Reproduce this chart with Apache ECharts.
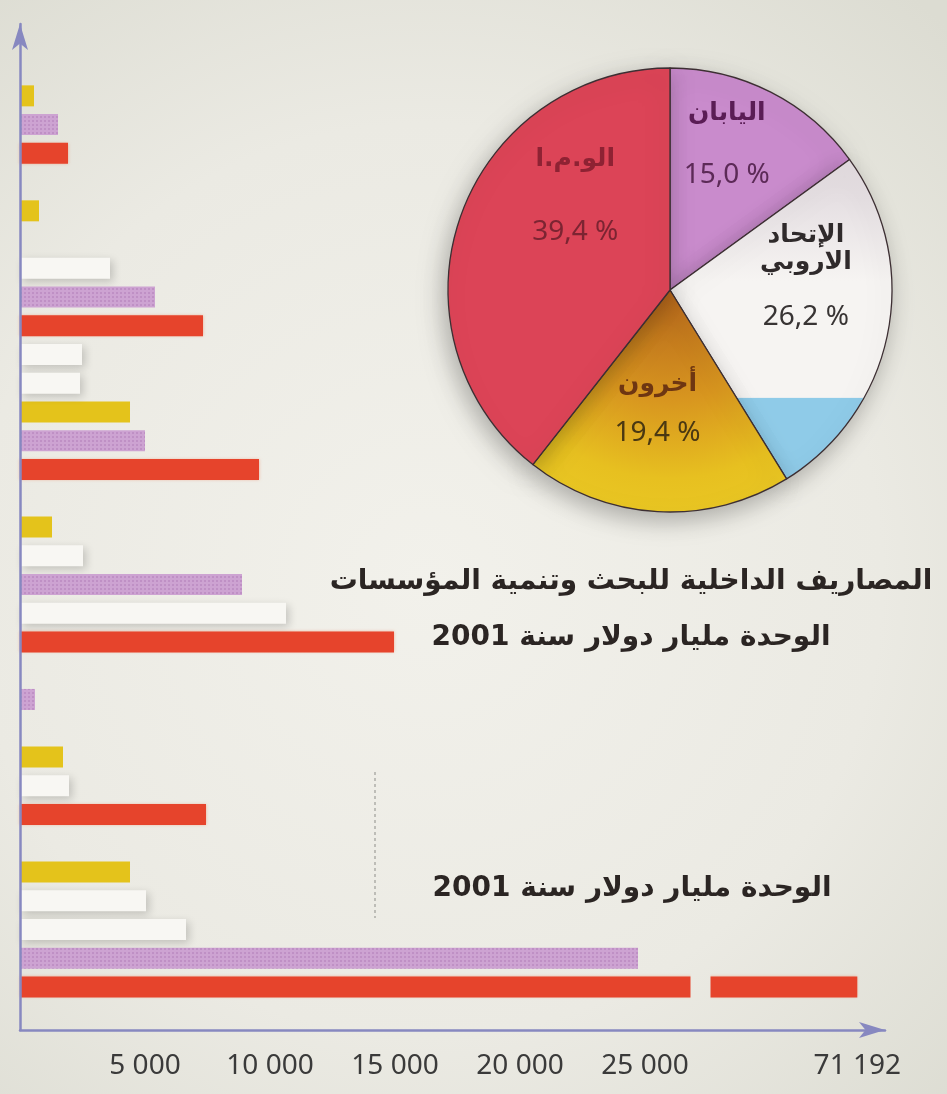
<!DOCTYPE html>
<html lang="ar">
<head>
<meta charset="utf-8">
<title>المصاريف الداخلية للبحث وتنمية المؤسسات</title>
<script src="https://cdn.jsdelivr.net/npm/echarts@6.0.0/dist/echarts.min.js"></script>
<style>
  html, body { margin: 0; padding: 0; background: #e9e8e1; }
  #chart { width: 947px; height: 1094px; }
</style>
</head>
<body>
<div id="chart"></div>
<script>
// bar rows from top to bottom, one bar per row (empty rows keep the gaps)
const rowNames = Array.from({ length: 35 }, (_, i) => 'row' + (i + 1))

const yellowBars = [
  null, null, 560, null, null,
  null, 760, null, null, null,
  null, null, null, 4400, null,
  null, null, 1280, null, null,
  null, null, null, null, null,
  1720, null, null, null, 4400,
  null, null, null, null, null
]
const whiteBars = [
  null, null, null, null, null,
  null, null, null, 3600, null,
  null, 2480, 2400, null, null,
  null, null, null, 2520, null,
  10640, null, null, null, null,
  null, 1960, null, null, null,
  5040, 6640, null, null, null
]
const lavenderBars = [
  null, null, null, 1520, null,
  null, null, null, null, 5400,
  null, null, null, null, 5000,
  null, null, null, null, 8880,
  null, null, null, 600, null,
  null, null, null, null, null,
  null, null, 24720, null, null
]
const redBars = [
  null, null, null, null, 1920,
  null, null, null, null, null,
  7320, null, null, null, null,
  9560, null, null, null, null,
  null, 14960, null, null, null,
  null, null, 7440, null, null,
  null, null, null, 71192, null
]

// x axis tick labels (the last one sits after the axis break)
const xTickValues = [5000, 10000, 15000, 20000, 25000, 71192]

// pie: share of spending, clockwise from 12 o'clock
const pieNames = ['اليابان', 'الإتحاد\nالاروبي', 'أخرون', 'الو.م.ا']
const pieShares = [15.0, 26.2, 19.4, 39.4]

const titleLines = ['المصاريف الداخلية للبحث وتنمية المؤسسات', 'الوحدة مليار دولار سنة 2001']
const unitNote = 'الوحدة مليار دولار سنة 2001'

const chart = echarts.init(document.getElementById('chart'))

const fmtThousands = v => String(v).replace(/\B(?=(\d{3})+(?!\d))/g, ' ')
const fmtShare = v => v.toFixed(1).replace('.', ',') + ' %'

// paper-like background, reused to hide the bar inside the axis break
const paper = () => new echarts.graphic.RadialGradient(426, 580, 760, [
  { offset: 0, color: '#f2f1eb' },
  { offset: 0.6, color: '#ebeae3' },
  { offset: 1, color: '#dcdcd2' }
], true)

const pieCenter = [670, 290]
const pieRadius = 222

const pieColors = [
  '#c98bcc',
  new echarts.graphic.LinearGradient(0, 68, 0, 512, [
    { offset: 0, color: '#d9cfd4' },
    { offset: 0.3, color: '#e6e0e3' },
    { offset: 0.48, color: '#f6f4f2' },
    { offset: 0.742, color: '#f6f4f2' },
    { offset: 0.743, color: '#8fcbe8' },
    { offset: 1, color: '#8fcbe8' }
  ], true),
  new echarts.graphic.RadialGradient(670, 290, 222, [
    { offset: 0, color: '#b5661c' },
    { offset: 0.5, color: '#d8961f' },
    { offset: 0.85, color: '#e7c020' },
    { offset: 1, color: '#e9c623' }
  ], true),
  '#dc4457'
]
const pieLabelColors = [['#5a1d55', '#5c2a57'], ['#2f2a2b', '#383434'], ['#6e3612', '#4a3812'], ['#8e2233', '#7c2432']]
const pieNameLine = [61, 27, 48, 73]
const pieValueLine = [61, 83, 48, 73]
const pieLabelShift = [[5, -44], [24, -22], [-6, 5], [13, -57]]

const pieData = pieNames.map((name, i) => ({
  name,
  value: pieShares[i],
  itemStyle: { color: pieColors[i] },
  label: {
    rich: {
      n: { fontFamily: 'DejaVu Sans', fontSize: 25, fontWeight: 'bold', color: pieLabelColors[i][0], lineHeight: pieNameLine[i], align: 'center' },
      v: { fontFamily: 'Noto Sans', fontSize: 28, color: pieLabelColors[i][1], lineHeight: pieValueLine[i], align: 'center' }
    }
  }
}))

const barSeries = (name, data, color, extra) => ({
  name,
  type: 'bar',
  stack: 'row',
  data,
  barWidth: 21,
  itemStyle: Object.assign({ color }, extra)
})

const axisArrowLine = {
  show: true,
  symbol: ['none', 'arrow'],
  symbolSize: [12, 26],
  lineStyle: { color: '#8788c0', width: 2.5 }
}

const option = {
  backgroundColor: paper(),
  animation: false,
  grid: { left: 20, right: 62, top: 24, bottom: 64, outerBoundsMode: 'none' },
  xAxis: [
    {
      type: 'value',
      min: 0,
      max: 72300,
      z: 3,
      breaks: [{ start: 26800, end: 65300, gap: 800 }],
      breakArea: {
        show: true,
        expandOnClick: false,
        zigzagAmplitude: 0,
        itemStyle: { color: paper(), borderColor: 'rgba(0,0,0,0)', borderWidth: 0, opacity: 1 }
      },
      axisLine: { show: false },
      axisTick: { show: false },
      splitLine: { show: false },
      axisLabel: {
        customValues: xTickValues,
        formatter: fmtThousands,
        fontFamily: 'Noto Sans',
        fontSize: 28,
        color: '#3a3a3a',
        margin: 22
      }
    },
    {
      // plain axis line with arrow, drawn unbroken above the break area
      type: 'value',
      position: 'bottom',
      min: 0,
      max: 1,
      z: 120,
      axisLine: axisArrowLine,
      axisTick: { show: false },
      axisLabel: { show: false },
      splitLine: { show: false }
    }
  ],
  yAxis: {
    type: 'category',
    data: rowNames,
    inverse: true,
    z: 120,
    axisLine: axisArrowLine,
    axisTick: { show: false },
    axisLabel: { show: false },
    splitLine: { show: false }
  },
  graphic: [
    {
      type: 'text',
      z: 200,
      x: 631,
      y: 582,
      style: { text: titleLines[0], fontFamily: 'DejaVu Sans', fontSize: 28, fontWeight: 'bold', fill: '#2b2523', textAlign: 'center', textVerticalAlign: 'middle' }
    },
    {
      type: 'text',
      z: 200,
      x: 631,
      y: 638,
      style: { text: titleLines[1], fontFamily: 'DejaVu Sans', fontSize: 28, fontWeight: 'bold', fill: '#2b2523', textAlign: 'center', textVerticalAlign: 'middle' }
    },
    {
      type: 'text',
      z: 200,
      x: 632,
      y: 889,
      style: { text: unitNote, fontFamily: 'DejaVu Sans', fontSize: 28, fontWeight: 'bold', fill: '#2b2523', textAlign: 'center', textVerticalAlign: 'middle' }
    },
    {
      type: 'line',
      z: 200,
      shape: { x1: 375, y1: 772, x2: 375, y2: 918 },
      style: { stroke: '#8d8d88', lineWidth: 1, lineDash: [3, 3] }
    }
  ],
  series: [
    barSeries('yellow', yellowBars, '#e4c31b'),
    barSeries('white', whiteBars, '#f8f7f3', { shadowBlur: 8, shadowColor: 'rgba(0,0,0,0.18)', shadowOffsetX: 3, shadowOffsetY: 3 }),
    barSeries('lavender', lavenderBars, '#cda3d2', {
      decal: { symbol: 'rect', symbolSize: 1, dashArrayX: [[2, 2]], dashArrayY: [2, 2], color: 'rgba(165, 110, 175, 0.35)' }
    }),
    barSeries('red', redBars, '#e6442c', { shadowBlur: 3, shadowColor: 'rgba(240,120,80,0.55)' }),
    {
      type: 'pie',
      z: 150,
      center: pieCenter,
      radius: pieRadius,
      startAngle: 90,
      clockwise: true,
      silent: true,
      data: pieData,
      itemStyle: {
        borderColor: '#3d2f33',
        borderWidth: 1.3,
        shadowBlur: 24,
        shadowColor: 'rgba(0,0,0,0.28)',
        shadowOffsetX: -4,
        shadowOffsetY: 8
      },
      label: {
        show: true,
        position: 'inside',
        formatter: p => `{n|${p.name}}\n{v|${fmtShare(p.value)}}`
      },
      labelLine: { show: false },
      labelLayout: p => ({ dx: pieLabelShift[p.dataIndex][0], dy: pieLabelShift[p.dataIndex][1] })
    }
  ]
}

chart.setOption(option)
window.addEventListener('resize', () => chart.resize())
</script>
</body>
</html>
